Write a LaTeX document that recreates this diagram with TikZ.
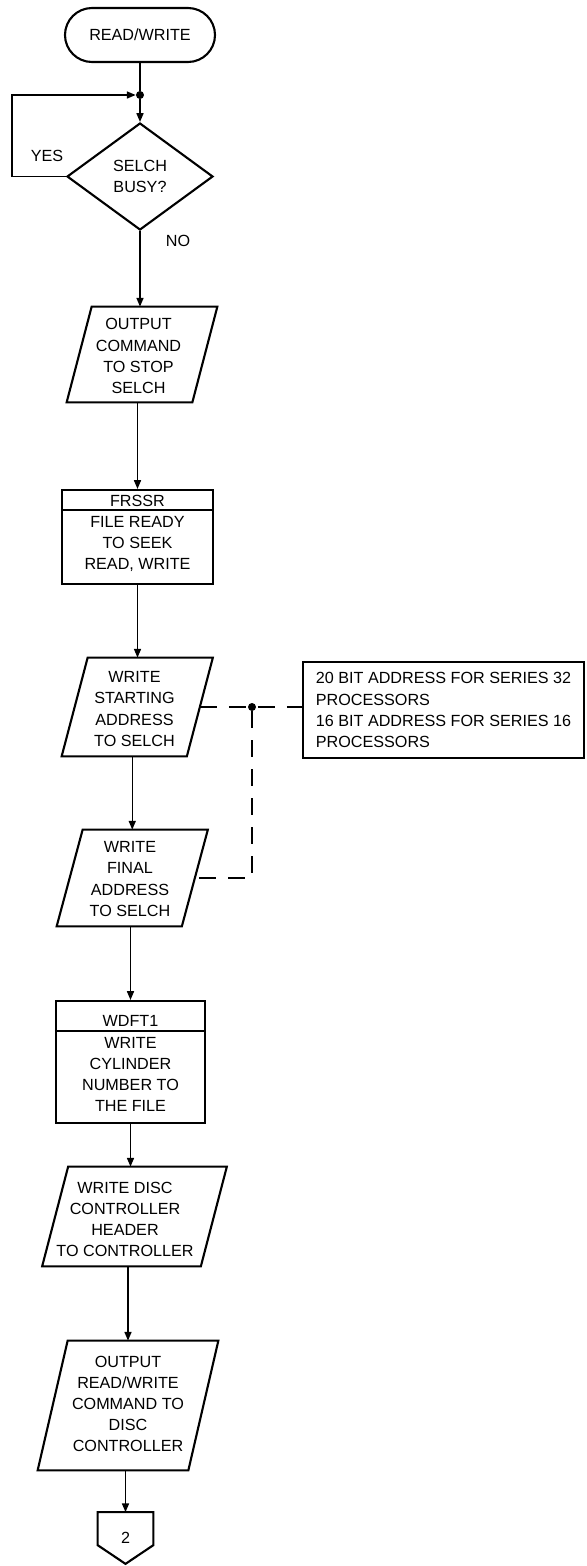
\documentclass[tikz,border=0pt]{standalone}
\usepackage{fontspec}
\setmainfont{Liberation Sans}
\usetikzlibrary{shapes.geometric,arrows.meta}
\newdimen\pxu \pxu=0.02cm
% outline of an input/output parallelogram around a node; #2 = half the slant
\newcommand\ioframe[2]{\draw[shapeline] ([xshift=#2]#1.north west) -- ([xshift=#2]#1.north east) -- ([xshift=-#2]#1.south east) -- ([xshift=-#2]#1.south west) -- cycle;}
\tikzset{
  shapeline/.style={line width=1.2pt},
  flow/.style={line width=0.85pt},
  arr/.style={flow,-{Triangle[length=5pt,width=4pt]}},
  dashline/.style={line width=0.85pt, dash pattern=on 9.5pt off 7pt},
  txt/.style={font=\fontsize{9.2}{12}\selectfont, align=center, inner sep=0pt},
  terminal/.style={txt, draw, shapeline, rectangle, rounded corners=27\pxu, minimum width=150\pxu, minimum height=54\pxu},
  decision/.style={txt, draw, shapeline, diamond, minimum width=146\pxu, minimum height=107\pxu},
  io/.style={txt, rectangle},
  proc/.style={txt, draw, shapeline, rectangle},
  dotnode/.style={circle, fill, inner sep=0pt, minimum size=8\pxu},
}
\begin{document}
\begin{tikzpicture}[x=0.02cm,y=-0.02cm]
\useasboundingbox (0,0) rectangle (587,1566);

% start and the busy test
\node[terminal] (start) at (140,35) {READ/WRITE};
\node[dotnode] (j1) at (140,95) {};
\node[decision] (busy) at (140,176.5) {SELCH\\BUSY?};
\node[txt] (yes) at (47,156) {YES};
\node[txt] (no) at (178,241) {NO};

% stop the selector channel
\node[io, minimum width=125\pxu, minimum height=95\pxu] (stop) at (142,354.5) {};
\ioframe{stop}{12.5\pxu}
\node[txt] (stopT) at (138.5,356) {OUTPUT\\COMMAND\\TO STOP\\SELCH};

% FRSSR subroutine
\node[proc, minimum width=151\pxu, minimum height=94\pxu] (frssr) at (137.5,537) {};
\draw[shapeline] ([yshift=-21\pxu]frssr.north west) -- ([yshift=-21\pxu]frssr.north east);
\node[txt] (frssrH) at (137.5,501) {FRSSR};
\node[txt] (frssrB) at (137.5,544) {FILE READY\\TO SEEK\\READ, WRITE};

% address registers
\node[io, minimum width=124.5\pxu, minimum height=98\pxu] (addr1) at (137.25,707) {};
\ioframe{addr1}{13\pxu}
\node[txt] (addr1T) at (134.5,709) {WRITE\\STARTING\\ADDRESS\\TO SELCH};
\node[io, minimum width=124.5\pxu, minimum height=96\pxu] (addr2) at (132.25,878) {};
\ioframe{addr2}{13\pxu}
\node[txt] (addr2T) at (130,879) {WRITE\\FINAL\\ADDRESS\\TO SELCH};

% note on address width
\node[txt, draw, shapeline, align=left, minimum width=281\pxu, minimum height=96\pxu] (note) at (443.5,710)
  {20 BIT ADDRESS FOR SERIES 32\\PROCESSORS\\16 BIT ADDRESS FOR SERIES 16\\PROCESSORS};
\node[dotnode] (j2) at (252,707) {};

% WDFT1 subroutine
\node[proc, minimum width=149\pxu, minimum height=122\pxu] (wdft) at (130.5,1062) {};
\draw[shapeline] ([yshift=-31\pxu]wdft.north west) -- ([yshift=-31\pxu]wdft.north east);
\node[txt] (wdftH) at (130.5,1021) {WDFT1};
\node[txt] (wdftB) at (130.5,1074.5) {WRITE\\CYLINDER\\NUMBER TO\\THE FILE};

% disc controller output
\node[io, minimum width=158\pxu, minimum height=99\pxu] (hdr) at (134.5,1216.5) {};
\ioframe{hdr}{13\pxu}
\node[txt] (hdrT) at (125,1219.5) {WRITE DISC\\CONTROLLER\\HEADER\\TO CONTROLLER};
\node[io, minimum width=150\pxu, minimum height=129\pxu] (cmd) at (128,1405.5) {};
\ioframe{cmd}{15\pxu}
\node[txt] (cmdT) at (128,1404) {OUTPUT\\READ/WRITE\\COMMAND TO\\DISC\\CONTROLLER};

% off-page connector
\node[txt, minimum width=55\pxu, minimum height=51\pxu] (pg2) at (125.5,1538) {2};
\draw[shapeline] (pg2.north west) -- (pg2.north east) -- ([yshift=-33\pxu]pg2.north east) -- (pg2.south) -- ([yshift=-33\pxu]pg2.north west) -- cycle;

% flow lines
\draw[flow] (start) -- (j1);
\draw[arr] (j1) -- (busy.north);
\draw[arr] (busy.west) -- ++(-54,0) |- (j1);
\draw[arr] (busy.south) -- (busy.south |- stop.north);
\draw[arr] (frssr.north |- stop.south) -- (frssr.north);
\draw[arr] (frssr.south) -- (frssr.south |- addr1.north);
\draw[arr] (addr2.north |- addr1.south) -- (addr2.north);
\draw[arr] (wdft.north |- addr2.south) -- (wdft.north);
\draw[arr] (wdft.south) -- (wdft.south |- hdr.north);
\draw[arr] (cmd.north |- hdr.south) -- (cmd.north);
\draw[arr] (pg2.north |- cmd.south) -- (pg2.north);

% dashed annotation lines
\draw[dashline] (addr1.east) -- (addr1.east -| note.west);
\draw[dashline] (j2) -- (j2 |- addr2.east) -- (addr2.east);
\end{tikzpicture}
\end{document}
